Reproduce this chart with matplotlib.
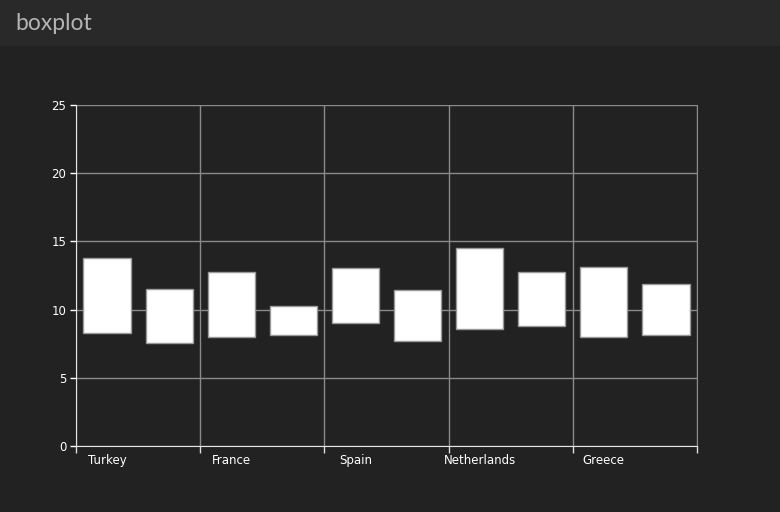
import matplotlib
matplotlib.use("Agg")
import matplotlib.pyplot as plt
import numpy as np
from matplotlib.patches import Rectangle

countries = ["Turkey", "France", "Spain", "Netherlands", "Greece"]
# two boxes per country: lower and upper quartile
s1_low = [8.26, 8.01, 9.00, 8.58, 7.97]
s1_high = [13.80, 12.78, 13.05, 14.49, 13.15]
s2_low = [7.57, 8.11, 7.70, 8.80, 8.14]
s2_high = [11.53, 10.26, 11.41, 12.73, 11.85]
yticks = [0, 5, 10, 15, 20, 25]

bg = "#222222"
fig = plt.figure(figsize=(7.8, 5.12), dpi=100, facecolor=bg)

# header bar
fig.patches.append(Rectangle((0, 1 - 46 / 512), 1, 46 / 512, transform=fig.transFigure,
                             facecolor="#292929", edgecolor="none", zorder=0))
fig.text(15 / 780, 1 - 23 / 512, "boxplot", color="#b4b4b4", fontsize=16.5,
         family=["Lato", "DejaVu Sans"], va="center", ha="left")

ax = fig.add_axes([76 / 780, 66 / 512, 621 / 780, 341 / 512])
ax.set_facecolor(bg)

x = np.arange(len(countries))
w = 0.38
ax.bar(x + 0.25, np.array(s1_high) - np.array(s1_low), bottom=s1_low, width=w,
       color="white", edgecolor="#9a9a9a", linewidth=1, zorder=3)
ax.bar(x + 0.75, np.array(s2_high) - np.array(s2_low), bottom=s2_low, width=w,
       color="white", edgecolor="#9a9a9a", linewidth=1, zorder=3)

ax.set_xlim(0, len(countries))
ax.set_ylim(0, 25)
ax.set_yticks(yticks)
ax.set_yticklabels([str(v) for v in yticks])

# category boundaries as minor ticks / gridlines, labels under the first box
ax.set_xticks(np.arange(len(countries) + 1), minor=True)
ax.set_xticks(x + 0.25)
ax.set_xticklabels(countries)
ax.tick_params(axis="x", which="major", length=0, pad=5.5)
ax.tick_params(axis="x", which="minor", length=5, color="#dddddd", width=1)
ax.tick_params(axis="y", length=4, color="#dddddd", width=1, pad=3)
ax.tick_params(labelsize=8.5, colors="white")

ax.grid(True, axis="y", color="#8a8a8a", linewidth=1, zorder=1)
ax.grid(True, axis="x", which="minor", color="#8a8a8a", linewidth=1, zorder=1)
ax.set_axisbelow(True)

ax.spines["top"].set_visible(False)
ax.spines["right"].set_color("#8a8a8a")
ax.spines["left"].set_color("#e6e6e6")
ax.spines["bottom"].set_color("#e6e6e6")

fig.savefig("out.png", dpi=100, facecolor=bg)
